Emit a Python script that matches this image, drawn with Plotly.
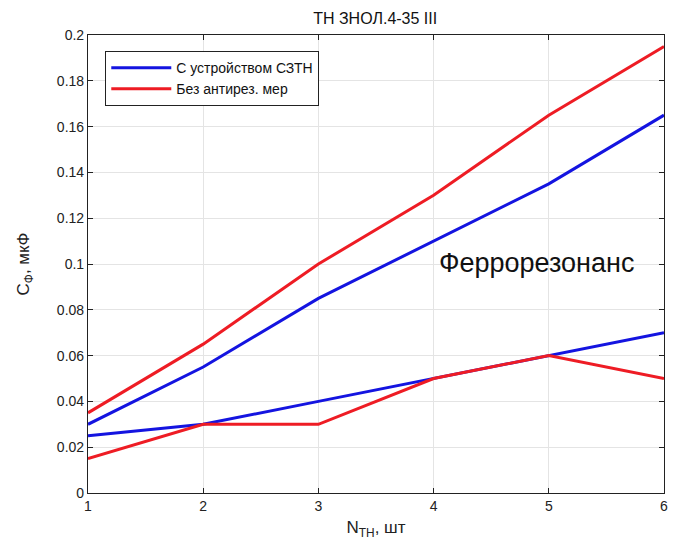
import plotly.graph_objects as go

x = [1, 2, 3, 4, 5, 6]
blue_upper = [0.03, 0.055, 0.085, 0.11, 0.135, 0.165]
red_upper = [0.035, 0.065, 0.10, 0.13, 0.165, 0.195]
blue_lower = [0.025, 0.03, 0.04, 0.05, 0.06, 0.07]
red_lower = [0.015, 0.03, 0.03, 0.05, 0.06, 0.05]

BLUE = "#1414e0"
RED = "#ee1c24"
FONT = "Liberation Sans Narrow, Liberation Sans, Arial, sans-serif"

fig = go.Figure()
fig.add_trace(go.Scatter(x=x, y=blue_upper, mode="lines", name="С устройством СЗТН",
                         line=dict(color=BLUE, width=3)))
fig.add_trace(go.Scatter(x=x, y=red_upper, mode="lines", name="Без антирез. мер",
                         line=dict(color=RED, width=3)))
fig.add_trace(go.Scatter(x=x, y=blue_lower, mode="lines", showlegend=False,
                         line=dict(color=BLUE, width=3)))
fig.add_trace(go.Scatter(x=x, y=red_lower, mode="lines", showlegend=False,
                         line=dict(color=RED, width=3)))

fig.add_annotation(x=4.89, y=0.1005, text="Феррорезонанс", showarrow=False,
                   font=dict(size=27, color="#111", family="Liberation Sans, Arial, sans-serif"))

axis_common = dict(showline=True, linecolor="#222", linewidth=1.2, mirror="ticks",
                   ticks="inside", ticklen=5, tickcolor="#222",
                   showgrid=True, gridcolor="#e4e4e4", gridwidth=1, zeroline=False,
                   tickfont=dict(size=14, color="#222", family=FONT))

fig.update_xaxes(range=[1, 6], tickvals=x, ticktext=[str(v) for v in x],
                 title=dict(text="N<sub>TH</sub>, шт", font=dict(size=17, color="#222", family=FONT), standoff=8),
                 **axis_common)
fig.update_yaxes(range=[0, 0.2], tickvals=[i * 0.02 for i in range(11)],
                 ticktext=["0", "0.02", "0.04", "0.06", "0.08", "0.1", "0.12", "0.14", "0.16", "0.18", "0.2"],
                 title=dict(text="C<sub>Ф</sub>, мкФ", font=dict(size=17, color="#222", family=FONT), standoff=22),
                 **axis_common)

fig.update_layout(
    width=676, height=547,
    margin=dict(l=88, r=8, t=35, b=54),
    paper_bgcolor="white", plot_bgcolor="white",
    title=dict(text="ТН ЗНОЛ.4-35 III", x=0.555, xanchor="center", y=0.967, yanchor="middle",
               font=dict(size=16, color="#111", family=FONT)),
    legend=dict(x=0.03, y=0.965, xanchor="left", yanchor="top",
                bgcolor="white", bordercolor="#222", borderwidth=1,
                font=dict(size=14, color="#111", family=FONT),
                tracegroupgap=0, itemwidth=60),
    showlegend=True,
)

fig.write_html("out.html")
